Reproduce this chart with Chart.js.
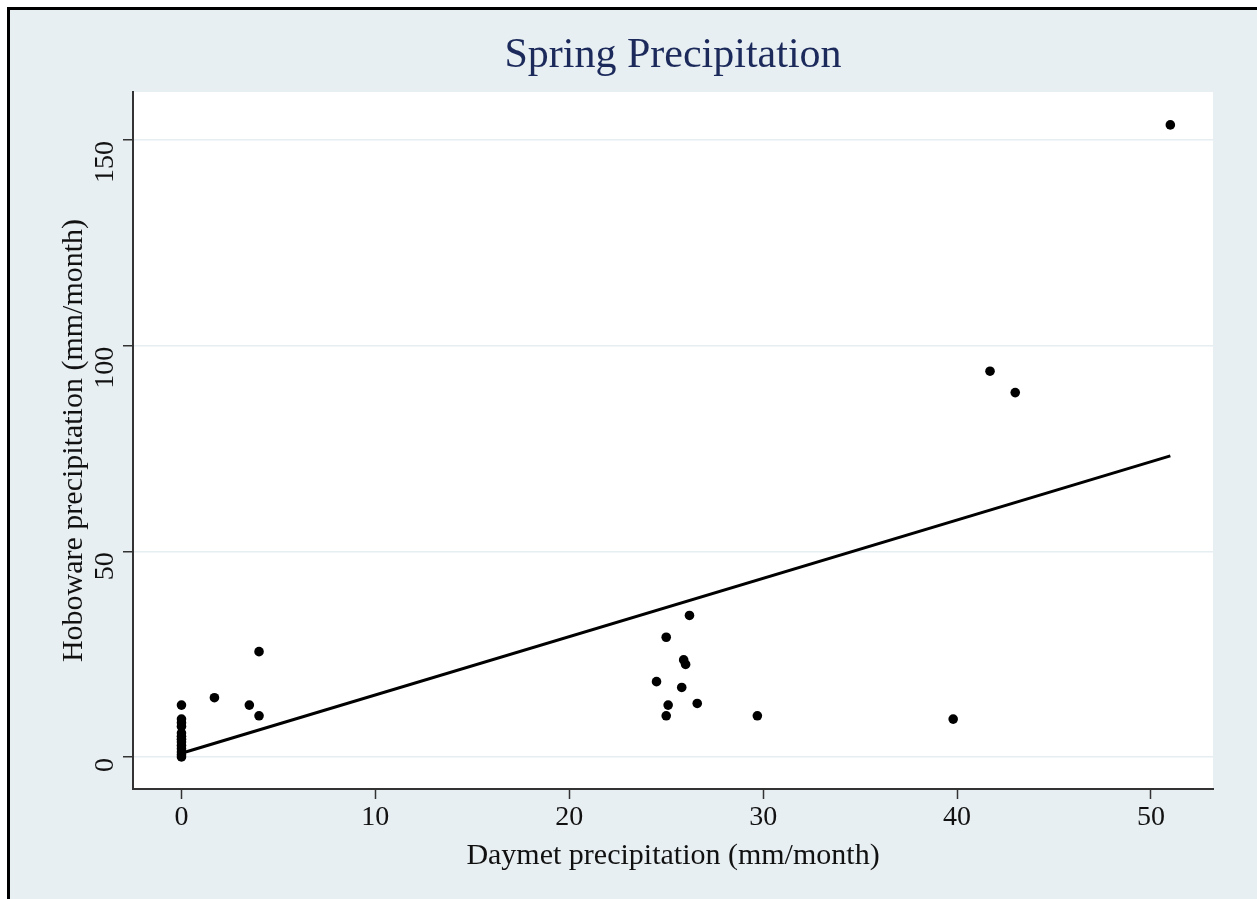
<!DOCTYPE html>
<html>
<head>
<meta charset="utf-8">
<script src="https://cdn.jsdelivr.net/npm/chart.js@4"></script>
<style>
  html, body { margin: 0; padding: 0; background: #ffffff; width: 1257px; height: 899px; overflow: hidden; }
  #frame { position: absolute; left: 7px; top: 7px; width: 1250px; height: 892px; box-sizing: border-box;
           border-left: 3px solid #000; border-top: 3px solid #000; background: #e8eff2; }
  #c { position: absolute; left: 0; top: 0; }
</style>
</head>
<body>
<div id="frame"></div>
<canvas id="c" width="1257" height="899"></canvas>
<script>
// ---- data ----
const chartTitle = "Spring Precipitation";
const xTitle = "Daymet precipitation (mm/month)";
const yTitle = "Hoboware precipitation (mm/month)";

const daymetX = [
  0, 0, 0, 0, 0, 0, 0, 0, 0, 0, 0, 0, 0,
  1.7, 3.5, 4.0, 4.0,
  24.5, 25.0, 25.0, 25.1, 25.8, 25.9, 26.0, 26.2, 26.6,
  29.7, 39.8, 41.7, 43.0, 51.0
];
const hobowareY = [
  0, 0.5, 1.2, 2.0, 2.8, 3.6, 4.3, 5.0, 5.8, 7.4, 8.3, 9.2, 12.6,
  14.4, 12.6, 25.6, 10.0,
  18.3, 29.1, 10.0, 12.6, 16.9, 23.6, 22.5, 34.4, 13.0,
  10.0, 9.2, 93.8, 88.6, 153.7
];
const fitX = [0, 51.0];
const fitY = [0.9, 73.2];

const xTickValues = [0, 10, 20, 30, 40, 50];
const yTickValues = [0, 50, 100, 150];
const xRange = [-2.5, 53.2];
const yRange = [-7.8, 161.7];

// ---- build datasets ----
const scatterPts = daymetX.map((x, i) => ({ x: x, y: hobowareY[i] }));
const fitPts = fitX.map((x, i) => ({ x: x, y: fitY[i] }));

const serif = "'Liberation Serif', 'Times New Roman', serif";

const textPlugin = {
  id: 'stataText',
  beforeDraw(chart) {
    const { ctx, chartArea } = chart;
    ctx.save();
    ctx.fillStyle = '#ffffff';
    ctx.fillRect(chartArea.left, chartArea.top, chartArea.right - chartArea.left, chartArea.bottom - chartArea.top);
    ctx.restore();
  },
  afterDraw(chart) {
    const { ctx, chartArea } = chart;
    const ys = chart.scales.y;
    ctx.save();
    // title
    ctx.fillStyle = '#1c2a5b';
    ctx.font = "42px " + serif;
    ctx.textAlign = 'center';
    ctx.textBaseline = 'middle';
    ctx.fillText(chartTitle, (chartArea.left + chartArea.right) / 2, 56);
    // rotated y tick labels
    ctx.fillStyle = '#111111';
    ctx.font = "28px " + serif;
    yTickValues.forEach(v => {
      const py = ys.getPixelForValue(v);
      ctx.save();
      ctx.translate(113, py + 1);
      ctx.rotate(-Math.PI / 2);
      ctx.textAlign = 'right';
      ctx.textBaseline = 'alphabetic';
      ctx.fillText(String(v), 0, 0);
      ctx.restore();
    });
    ctx.restore();
  }
};

new Chart(document.getElementById('c'), {
  type: 'scatter',
  data: {
    datasets: [
      {
        label: 'Hoboware precipitation',
        data: scatterPts,
        backgroundColor: '#000000',
        borderColor: '#000000',
        pointRadius: 4.8,
        pointBorderWidth: 0,
        showLine: false
      },
      {
        label: 'Fitted values',
        type: 'line',
        data: fitPts,
        borderColor: '#000000',
        borderWidth: 3,
        pointRadius: 0,
        fill: false,
        tension: 0
      }
    ]
  },
  options: {
    responsive: false,
    animation: false,
    layout: { padding: { left: 0, top: 92, right: 44, bottom: 0 } },
    plugins: {
      legend: { display: false },
      tooltip: { enabled: false },
      title: { display: false }
    },
    scales: {
      x: {
        type: 'linear',
        min: xRange[0],
        max: xRange[1],
        afterBuildTicks: s => { s.ticks = xTickValues.map(v => ({ value: v })); },
        afterFit: s => { s.height = 110; },
        grid: { color: 'rgba(0,0,0,0)', drawOnChartArea: false, tickColor: '#333333', tickLength: 10, tickWidth: 1.5 },
        border: { color: '#333333', width: 2 },
        ticks: { color: '#111111', font: { family: serif, size: 28 }, padding: 2, maxRotation: 0, autoSkip: false },
        title: { display: true, text: xTitle, color: '#111111', font: { family: serif, size: 30 }, padding: { top: 0, bottom: 25 } }
      },
      y: {
        type: 'linear',
        min: yRange[0],
        max: yRange[1],
        afterBuildTicks: s => { s.ticks = yTickValues.map(v => ({ value: v })); },
        afterFit: s => { s.width = 133; },
        grid: { color: '#e6eef1', lineWidth: 1.5, tickColor: '#333333', tickLength: 10, tickWidth: 1.5 },
        border: { color: '#333333', width: 2 },
        ticks: { display: false },
        title: { display: true, text: yTitle, color: '#111111', font: { family: serif, size: 30 }, padding: { top: 56, bottom: 0 } }
      }
    }
  },
  plugins: [textPlugin]
});
</script>
</body>
</html>
